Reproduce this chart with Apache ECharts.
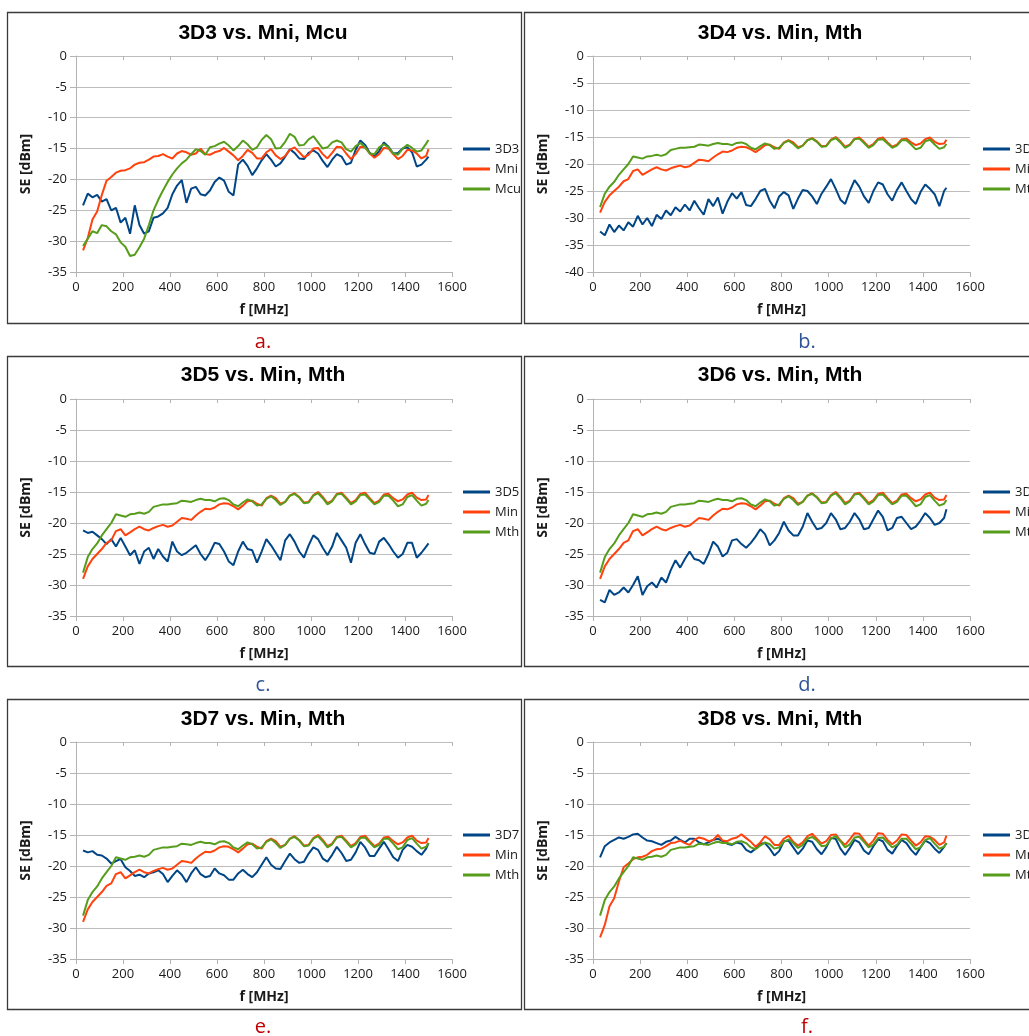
<!DOCTYPE html>
<html>
<head>
<meta charset="utf-8">
<title>SE vs. f</title>
<script src="https://cdn.jsdelivr.net/npm/echarts@6/dist/echarts.min.js"></script>
<style>
html, body { margin: 0; padding: 0; background: #fff; }
#chart { width: 1029px; height: 1036px; }
</style>
</head>
<body>
<div id="chart"></div>
<script>
const freq = [
  30, 50, 70, 90, 110, 130, 150, 170, 190, 210,
  230, 250, 270, 290, 310, 330, 350, 370, 390, 410,
  430, 450, 470, 490, 510, 530, 550, 570, 590, 610,
  630, 650, 670, 690, 710, 730, 750, 770, 790, 810,
  830, 850, 870, 890, 910, 930, 950, 970, 990, 1010,
  1030, 1050, 1070, 1090, 1110, 1130, 1150, 1170, 1190, 1210,
  1230, 1250, 1270, 1290, 1310, 1330, 1350, 1370, 1390, 1410,
  1430, 1450, 1470, 1490, 1500
]
const yTicks = [0, -5, -10, -15, -20, -25, -30, -35, -40]
const xTicks = [0, 200, 400, 600, 800, 1000, 1200, 1400, 1600]

// reference samples (dBm)
const mni = [
  -31.5, -29.5, -26.5, -25.2, -22.5, -20.2, -19.6, -18.9, -18.6, -18.5,
  -18.2, -17.6, -17.3, -17.2, -16.8, -16.3, -16.2, -15.9, -16.3, -16.6,
  -15.8, -15.4, -15.6, -16, -15.8, -15, -15.9, -16, -15.6, -15.4,
  -14.9, -15.5, -16.1, -16.9, -16.2, -15.2, -15.7, -16.6, -16.6, -15.6,
  -15.1, -16.1, -16.7, -16.2, -15.2, -14.8, -15.6, -16.4, -16, -15,
  -14.9, -15.9, -16.6, -15.7, -14.7, -14.8, -15.8, -16.7, -15.9, -14.7,
  -14.8, -15.8, -16.5, -15.9, -14.9, -15, -15.9, -16.7, -16.2, -15.2,
  -15.3, -15.8, -16.6, -16.2, -15.1
]
const mcu = [
  -30.8, -29.6, -28.4, -28.7, -27.4, -27.6, -28.4, -28.9, -30.2, -30.9,
  -32.4, -32.2, -31, -29.6, -27.4, -25, -23.3, -21.8, -20.4, -19.2,
  -18.2, -17.4, -16.8, -15.9, -15.1, -15.4, -16, -14.8, -14.6, -14.2,
  -13.9, -14.5, -15.3, -14.6, -13.7, -14.3, -15.2, -14.8, -13.6, -12.8,
  -13.5, -15, -14.9, -13.9, -12.6, -13.1, -14.5, -14.4, -13.5, -13,
  -14, -15, -14.8, -14, -13.7, -14, -15.1, -15.5, -14.6, -14.1,
  -14.8, -15.8, -15.9, -14.8, -14.3, -14.8, -15.8, -16, -15, -14.4,
  -14.9, -15.5, -15.3, -14.2, -13.6
]
const min = [
  -29, -27, -25.8, -25, -24.2, -23.2, -22.8, -21.3, -21, -22,
  -21.5, -21, -20.6, -21, -21.2, -20.8, -20.5, -20.3, -20.6, -20.4,
  -19.8, -19.2, -19.3, -19.5, -18.8, -18.2, -17.7, -17.8, -17.5, -17,
  -16.8, -16.9, -17.3, -17.8, -17.2, -16.5, -16.4, -16.9, -17.2, -16,
  -15.6, -16, -16.9, -16.6, -15.6, -15.2, -15.8, -16.7, -16.6, -15.5,
  -15, -15.8, -16.8, -16.4, -15.3, -15.1, -15.9, -16.8, -16.3, -15.3,
  -15.1, -16, -16.8, -16.4, -15.4, -15.3, -16, -16.5, -16.2, -15.4,
  -15.1, -15.9, -16.3, -16.2, -15.5
]
const mth = [
  -28, -25.5, -24.2, -23.3, -22, -21, -20, -18.6, -18.8, -19,
  -18.6, -18.5, -18.3, -18.5, -18.2, -17.4, -17.2, -17, -17, -16.9,
  -16.8, -16.4, -16.5, -16.6, -16.3, -16.1, -16.3, -16.3, -16.5, -16.1,
  -16, -16.3, -17, -17.3, -16.7, -16.2, -16.5, -17.2, -17, -16.1,
  -15.7, -16.3, -17.1, -16.6, -15.6, -15.3, -15.9, -16.8, -16.7, -15.6,
  -15.2, -16, -17, -16.5, -15.4, -15.3, -16.1, -17, -16.5, -15.5,
  -15.4, -16.2, -17, -16.6, -15.6, -15.6, -16.4, -17.3, -17, -15.8,
  -15.5, -16.4, -17.2, -16.9, -16.3
]
const d3 = [
  -24.2, -22.3, -22.9, -22.5, -23.6, -23.2, -25, -24.6, -27, -26.2,
  -28.8, -24.2, -27.4, -28.8, -28.4, -26.2, -26, -25.5, -24.6, -22.4,
  -21, -20.1, -23.8, -21.5, -21.2, -22.4, -22.6, -21.8, -20.4, -19.7,
  -20.2, -22, -22.6, -17.6, -16.8, -17.8, -19.3, -18.2, -16.9, -15.9,
  -16.8, -17.9, -17.4, -16.3, -15.1, -15.7, -16.6, -16.7, -15.7, -15.3,
  -15.8, -17, -18, -16.8, -15.9, -16.3, -17.6, -17.3, -15.2, -13.7,
  -14.4, -15.7, -16.3, -15.4, -14, -14.7, -15.8, -15.7, -15, -14.8,
  -15.6, -17.9, -17.6, -16.8, -16.3
]
const d4 = [
  -32.5, -33.2, -31.2, -32.6, -31.4, -32.3, -30.8, -31.6, -29.6, -31.2,
  -30, -31.5, -29.4, -30.2, -28.6, -29.5, -28, -28.8, -27.5, -28.6,
  -26.8, -28.2, -29.4, -26.5, -27.8, -26.2, -29.2, -27, -25.4, -26.4,
  -25.2, -27.6, -27.8, -26.5, -25, -24.6, -26.8, -28.2, -26, -25.2,
  -25.8, -28.3, -26.4, -24.8, -25, -26, -27.4, -25.5, -24.2, -22.8,
  -24.6, -26.6, -27.4, -25, -23, -24.2, -26, -27.2, -25, -23.4,
  -23.8, -25.6, -26.8, -24.8, -23.4, -25, -26.5, -27.4, -25.2, -23.8,
  -24.6, -25.6, -27.8, -25, -24.4
]
const d5 = [
  -21.2, -21.6, -21.4, -22, -22.6, -23.4, -22.6, -23.8, -22.4, -23.8,
  -25.2, -24.4, -26.6, -24.6, -24, -25.8, -24.2, -25.4, -26.2, -23,
  -24.6, -25.2, -24.8, -24.2, -23.6, -25, -26, -24.8, -23.2, -23.4,
  -24.6, -26.2, -26.8, -24.6, -23, -24.2, -24.4, -26.4, -24.6, -22.6,
  -23.6, -24.8, -26, -22.8, -21.8, -23, -24.6, -25.6, -23.6, -22,
  -22.6, -24, -25.2, -23.8, -21.6, -22.8, -24, -26.4, -23.2, -21.8,
  -23.4, -24.8, -25, -23, -22.4, -23.4, -24.6, -25.6, -25, -23.2,
  -23.2, -25.6, -24.8, -23.8, -23.3
]
const d6 = [
  -32.4, -32.8, -30.8, -31.6, -31.2, -30.4, -31.2, -30, -28.6, -31.6,
  -30.2, -29.6, -30.4, -28.8, -29.6, -27.6, -26, -27.2, -25.8, -24.6,
  -25.8, -26, -26.6, -25, -23, -23.8, -25.4, -24.8, -22.8, -22.6,
  -23.4, -24, -23.2, -22.2, -21, -21.8, -23.6, -22.8, -21.6, -19.8,
  -21.2, -22, -22, -20.6, -18.4, -19.8, -21, -20.8, -20, -18.4,
  -19.4, -21, -20.8, -19.8, -18.4, -19.4, -21, -20.8, -19.4, -18,
  -19, -21.2, -20.8, -19.2, -19, -20, -21, -20.6, -19.6, -18.4,
  -19.2, -20.3, -20, -19.2, -17.8
]
const d7 = [
  -17.5, -17.8, -17.6, -18.2, -18.3, -18.8, -19.6, -19.2, -18.9, -20.2,
  -20.8, -21.6, -21.4, -21.8, -21.2, -21, -20.7, -21.3, -22.6, -21.6,
  -20.7, -21.4, -22.6, -21.2, -20.2, -21.3, -21.8, -21.6, -20.4, -21.2,
  -21.5, -22.2, -22.2, -21.2, -20.6, -21.3, -21.8, -21, -19.8, -18.6,
  -19.8, -20.4, -20.5, -19.2, -18, -18.9, -19.5, -19.3, -18, -17,
  -17.4, -18.8, -19.3, -18.2, -16.9, -17.9, -19.2, -19, -17.8, -16.1,
  -17, -18.4, -18.4, -17.2, -16.1, -17.3, -18.6, -19.2, -17.4, -16.6,
  -16.9, -17.6, -18.2, -17.2, -16.3
]
const d8 = [
  -18.6, -16.8, -16.2, -15.8, -15.4, -15.6, -15.3, -14.9, -14.8, -15.4,
  -15.9, -16, -16.3, -16.6, -16.1, -15.9, -15.3, -15.8, -16.2, -15.6,
  -15.6, -16.2, -16.5, -16.2, -15.8, -15.6, -16, -16.4, -16.6, -16.2,
  -16.4, -17.4, -17.8, -17.2, -16.4, -16.3, -17.2, -18.3, -17.6, -16,
  -15.9, -17, -18.1, -17.2, -15.9, -16.1, -17.3, -18.1, -17, -15.5,
  -15.6, -17.2, -18.2, -17.1, -15.8, -16.2, -17.5, -18.1, -16.8, -15.7,
  -16, -17.4, -18, -16.8, -15.8, -16.3, -17.4, -18.2, -17, -15.9,
  -16.3, -17.2, -17.9, -16.9, -16.3
]

const blue = '#004586', orange = '#ff420e', green = '#579d1c'
const red = '#c00000', navy = '#2f5496'

const panels = [
  { title: '3D3 vs. Mni, Mcu', tag: 'a.', tagColor: red, names: ['3D3', 'Mni', 'Mcu'], series: [d3, mni, mcu], yMin: -35, col: 0, row: 0 },
  { title: '3D4 vs. Min, Mth', tag: 'b.', tagColor: navy, names: ['3D4', 'Min', 'Mth'], series: [d4, min, mth], yMin: -40, col: 1, row: 0 },
  { title: '3D5 vs. Min, Mth', tag: 'c.', tagColor: navy, names: ['3D5', 'Min', 'Mth'], series: [d5, min, mth], yMin: -35, col: 0, row: 1 },
  { title: '3D6 vs. Min, Mth', tag: 'd.', tagColor: navy, names: ['3D6', 'Min', 'Mth'], series: [d6, min, mth], yMin: -35, col: 1, row: 1 },
  { title: '3D7 vs. Min, Mth', tag: 'e.', tagColor: red, names: ['3D7', 'Min', 'Mth'], series: [d7, min, mth], yMin: -35, col: 0, row: 2 },
  { title: '3D8 vs. Mni, Mth', tag: 'f.', tagColor: red, names: ['3D8', 'Mni', 'Mth'], series: [d8, mni, mth], yMin: -35, col: 1, row: 2 }
]

const cols = [
  { boxX: 7.5, boxW: 514, gx: 76, gw: 376, tx: 263, tagX: 263, lx: 463 },
  { boxX: 524.5, boxW: 520, gx: 593, gw: 377, tx: 780, tagX: 807, lx: 983 }
]
const rows = [
  { boxY: 12.5, boxH: 311, gy: 56, gh: 216, ty: 33, ly: 142, tagY: 342 },
  { boxY: 356.5, boxH: 310, gy: 399, gh: 217, ty: 375, ly: 485, tagY: 685 },
  { boxY: 699.5, boxH: 310, gy: 742, gh: 217, ty: 719, ly: 828, tagY: 1027 }
]

const lineColor = name => name.startsWith('3D') ? blue : (name === 'Mni' || name === 'Min') ? orange : green
const pairs = arr => arr.map((v, i) => [freq[i], v])

const labelFont = { fontFamily: 'Open Sans', fontSize: 13, color: '#1a1a1a' }
const nameFont = { fontFamily: 'Open Sans', fontSize: 14, fontWeight: 'bold', color: '#1a1a1a' }
const axisGray = '#b3b3b3'

const option = {
  animation: false,
  backgroundColor: '#fff',
  title: [],
  legend: [],
  grid: [],
  xAxis: [],
  yAxis: [],
  series: [],
  graphic: { elements: [] }
}

panels.forEach((p, i) => {
  const c = cols[p.col], r = rows[p.row]
  option.graphic.elements.push({
    type: 'rect', silent: true, z: -1,
    shape: { x: c.boxX, y: r.boxY, width: c.boxW, height: r.boxH },
    style: { fill: 'none', stroke: '#3a3a3a', lineWidth: 1.3 }
  })
  option.title.push({
    text: p.title, left: c.tx, top: r.ty - 12, textAlign: 'center', padding: 0,
    textStyle: { fontFamily: 'Liberation Sans', fontSize: 21, fontWeight: 'bold', color: '#000', lineHeight: 24 }
  })
  option.title.push({
    text: p.tag, left: c.tagX, top: r.tagY - 12, textAlign: 'center', padding: 0,
    textStyle: { fontFamily: 'Open Sans', fontSize: 20, fontWeight: 'normal', color: p.tagColor, lineHeight: 24 }
  })
  option.legend.push({
    data: p.names.map(n => ({ name: n, icon: 'rect' })),
    orient: 'vertical', left: c.lx, top: r.ly, padding: 0,
    itemWidth: 27, itemHeight: 3, itemGap: 6,
    textStyle: { fontFamily: 'Open Sans', fontSize: 13, color: '#1a1a1a', lineHeight: 14 }
  })
  option.grid.push({ left: c.gx, top: r.gy, width: c.gw, height: r.gh, containLabel: false, outerBoundsMode: 'none' })
  option.xAxis.push({
    gridIndex: i, type: 'value', position: 'bottom', min: xTicks[0], max: xTicks[xTicks.length - 1], interval: 200,
    axisLine: { show: true, onZero: false, lineStyle: { color: axisGray } },
    axisTick: { show: true, length: 5, lineStyle: { color: axisGray } },
    axisLabel: Object.assign({ margin: 9, showMinLabel: true, showMaxLabel: true, formatter: v => String(v) }, labelFont),
    splitLine: { show: false },
    name: 'f [MHz]', nameLocation: 'middle', nameGap: 31, nameTextStyle: nameFont
  })
  option.xAxis.push({
    gridIndex: i, type: 'value', position: 'top', min: xTicks[0], max: xTicks[xTicks.length - 1], interval: 200,
    axisLine: { show: false, onZero: false },
    axisTick: { show: true, inside: true, length: 4, lineStyle: { color: axisGray } },
    axisLabel: { show: false },
    splitLine: { show: false }
  })
  option.yAxis.push({
    gridIndex: i, type: 'value', min: p.yMin, max: yTicks[0], interval: 5,
    axisLine: { show: true, onZero: false, lineStyle: { color: axisGray } },
    axisTick: { show: true, length: 6, lineStyle: { color: axisGray } },
    axisLabel: Object.assign({ margin: 9, showMinLabel: true, showMaxLabel: true, formatter: v => String(v) }, labelFont),
    splitLine: { show: true, lineStyle: { color: '#bdbdbd', width: 1 } },
    name: 'SE [dBm]', nameLocation: 'middle', nameGap: 43, nameRotate: 90, nameTextStyle: nameFont
  })
  p.names.forEach((name, k) => {
    option.series.push({
      type: 'line', name: name, xAxisIndex: 2 * i, yAxisIndex: i,
      data: pairs(p.series[k]), symbol: 'none', smooth: false,
      lineStyle: { width: 2, color: lineColor(name) },
      itemStyle: { color: lineColor(name) }
    })
  })
})

const myChart = echarts.init(document.getElementById('chart'), null, { renderer: 'canvas' })
myChart.setOption(option)
</script>
</body>
</html>
